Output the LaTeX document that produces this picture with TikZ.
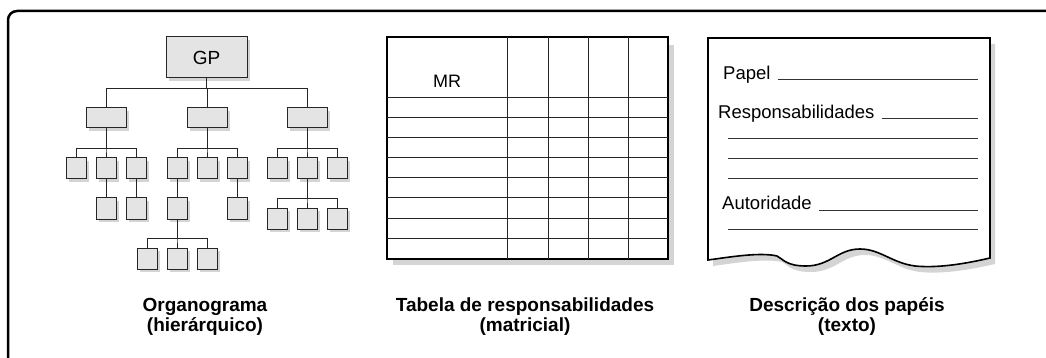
\documentclass[tikz,border=0pt]{standalone}
\usepackage{fontspec}
\setmainfont{Liberation Sans}
\usepackage{tikz}
\usetikzlibrary{shadows, calc}
\definecolor{boxgray}{HTML}{E4E4E4}
\definecolor{shadowgray}{HTML}{D4D4D4}

\begin{document}
\begin{tikzpicture}[
    x=1pt, y=-1pt,
    orgbox/.style={rectangle, draw=black!85, fill=boxgray, line width=1pt, inner sep=0pt,
        general shadow={fill=shadowgray, shadow xshift=3pt, shadow yshift=-3pt}},
    bigbox/.style={orgbox, minimum width=81pt, minimum height=41pt, font=\fontsize{19}{21}\selectfont},
    midbox/.style={orgbox, minimum width=40pt, minimum height=20pt},
    smallbox/.style={orgbox, minimum width=20pt, minimum height=21pt},
    orgedge/.style={to path={-- ++(0,#1) -| (\tikztotarget)}},
    orgline/.style={draw=black!85, line width=1pt},
    docline/.style={draw=black!80, line width=1pt},
    doctxt/.style={font=\fontsize{18.5}{20}\selectfont, inner sep=0pt, anchor=base west},
    caption/.style={font=\fontsize{19}{20}\selectfont\bfseries, align=center},
]
\useasboundingbox (0,0) rectangle (1046,358);
\draw[line width=2.5pt, rounded corners=9pt] (8,362) -- (8,11) -- (1050,11);

% organograma
\node[bigbox] (gp) at (206.5,57.5) {GP};
\node[midbox] (a) at (106,118) {};
\node[midbox] (b) at (207,118) {};
\node[midbox] (c) at (307,118) {};
\foreach \n/\x in {a1/76, a2/106, a3/136, b1/177, b2/207, b3/237, c1/277, c2/307, c3/337}
    \node[smallbox] (\n) at (\x,168.5) {};
\foreach \n/\x in {a2x/106, a3x/136, b1x/177, b3x/237}
    \node[smallbox] (\n) at (\x,208.5) {};
\foreach \n/\x in {c21/277, c22/307, c23/337}
    \node[smallbox] (\n) at (\x,218.5) {};
\foreach \n/\x in {d1/147, d2/177, d3/207}
    \node[smallbox] (\n) at (\x,258.5) {};

\foreach \t in {a, b, c}
    \draw[orgline] (gp.south) to[orgedge=10] (\t.north);
\foreach \p in {a, b, c}
    \foreach \i in {1, 2, 3}
        \draw[orgline] (\p.south) to[orgedge=20] (\p\i.north);
\foreach \p in {a2, a3, b1, b3}
    \draw[orgline] (\p.south) -- (\p x.north);
\foreach \i in {1, 2, 3}
    \draw[orgline] (c2.south) to[orgedge=19] (c2\i.north);
\foreach \i in {1, 2, 3}
    \draw[orgline] (b1x.south) to[orgedge=19] (d\i.north);

\node[caption] (orgcap) at (205,317) {Organograma\\(hierárquico)};

% tabela
\fill[shadowgray] (393,45) rectangle (674,265);
\draw[line width=2pt, fill=white] (387,37) rectangle (668,259);
\foreach \x in {507, 548, 588, 628}
    \draw[orgline] (\x,37) -- (\x,259);
\foreach \y in {98, 118, ..., 238}
    \draw[orgline] (387,\y) -- (668,\y);
\node[font=\fontsize{18}{20}\selectfont] (mr) at (447,81) {MR};

\node[caption] (tabcap) at (525,317) {Tabela de responsabilidades\\(matricial)};

% descricao
\fill[shadowgray, shift={(5,6)}] (708,38) -- (990,38) -- (990,258)
    .. controls (960,265) and (935,268) .. (915,266)
    .. controls (892,263) and (880,249) .. (860,249)
    .. controls (838,249) and (830,266) .. (806,266)
    .. controls (786,266) and (783,259) .. (777,256)
    .. controls (760,252) and (730,257) .. (708,260) -- cycle;
\draw[line width=1.6pt, fill=white] (708,38) -- (990,38) -- (990,258)
    .. controls (960,265) and (935,268) .. (915,266)
    .. controls (892,263) and (880,249) .. (860,249)
    .. controls (838,249) and (830,266) .. (806,266)
    .. controls (786,266) and (783,259) .. (777,256)
    .. controls (760,252) and (730,257) .. (708,260) -- cycle;

\coordinate (rm) at (978,0);
\node[doctxt] (papel) at (723,80) {Papel};
\node[doctxt] (resp) at (718,119) {Responsabilidades};
\node[doctxt] (aut) at (722,210) {Autoridade};
\draw[docline] ([xshift=7pt]papel.base east) -- (papel.base -| rm);
\draw[docline] ([xshift=7pt]resp.base east) -- (resp.base -| rm);
\draw[docline] ([xshift=7pt]aut.base east) -- (aut.base -| rm);
\foreach \y in {139, 159, 179, 229}
    \draw[docline] (728,\y) -- (978,\y);

\node[caption] (doccap) at (847,317) {Descrição dos papéis\\(texto)};
\end{tikzpicture}
\end{document}
